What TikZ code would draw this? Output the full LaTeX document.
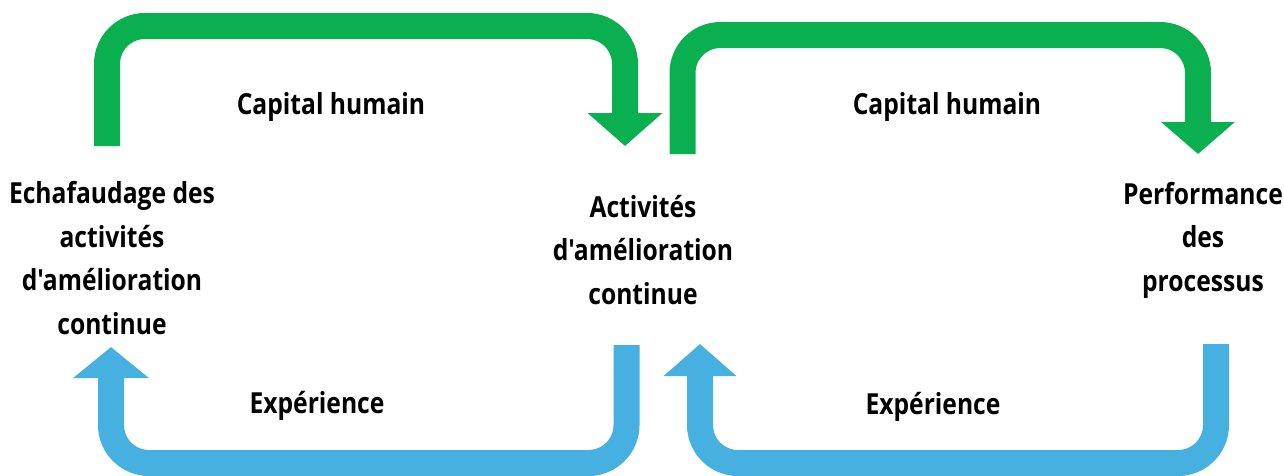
\documentclass[tikz,border=0pt]{standalone}
\usepackage{fontspec}
\usetikzlibrary{arrows.meta}
\newfontfamily\lblfont{Open Sans}[FakeStretch=0.85]
\definecolor{arrgreen}{HTML}{0AB04F}
\definecolor{arrblue}{HTML}{46B0E1}
\tikzset{
  lbl/.style={font=\lblfont\bfseries\fontsize{29}{43.5}\selectfont, text=black, inner sep=0pt, align=center},
  loopline/.style={line width=26pt, rounded corners=38pt},
  garrow/.style={loopline, draw=arrgreen},
  barrow/.style={loopline, draw=arrblue},
}
\begin{document}
\begin{tikzpicture}[x=1pt,y=-1pt]
\useasboundingbox (0,0) rectangle (1284,475);
% text nodes
\node[lbl] (ech) at (112,258) {Echafaudage des\\activités\\d'amélioration\\continue};
\node[lbl] (act) at (643,250) {Activités\\d'amélioration\\continue};
\node[lbl] (perf) at (1203,240) {Performance\\des\\processus};
\node[lbl, anchor=base] (cap1) at (331,114) {Capital humain};
\node[lbl, anchor=base] (cap2) at (947,114) {Capital humain};
\node[lbl, anchor=base] (exp1) at (317,413) {Expérience};
\node[lbl, anchor=base] (exp2) at (933,414) {Expérience};
% arrow end points
\coordinate (g1s) at (107,146);
\coordinate (g1e) at (625,146);
\coordinate (g2s) at (682.5,154);
\coordinate (g2e) at (1198,154);
\coordinate (b1s) at (626.5,345);
\coordinate (b1e) at (111,347);
\coordinate (b2s) at (1216,344);
\coordinate (b2e) at (700,344);
% green arrows (Capital humain)
\draw[garrow, -{Triangle[length=33pt,width=73pt]}] (g1s) -- ++(0,-120) -| (g1e);
\draw[garrow, -{Triangle[length=32pt,width=72pt]}] (g2s) -- ++(0,-119) -| (g2e);
% blue arrows (Expérience)
\draw[barrow, -{Triangle[length=31pt,width=74pt]}] (b1s) -- ++(0,118) -| (b1e);
\draw[barrow, -{Triangle[length=32pt,width=71pt]}] (b2s) -- ++(0,119) -| (b2e);
\end{tikzpicture}
\end{document}
